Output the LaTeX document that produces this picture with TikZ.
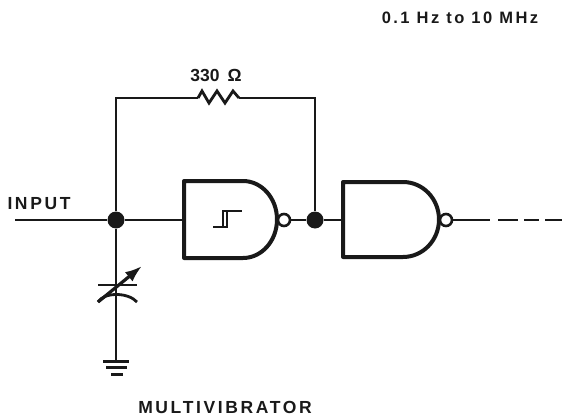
\documentclass[tikz,border=0pt]{standalone}
\usepackage{fontspec}
\setmainfont{Liberation Sans}
\newfontfamily\spacedfont[LetterSpace=15]{Liberation Sans}
\usepackage{xcolor}
\usetikzlibrary{arrows.meta}

\definecolor{ink}{gray}{0.1}
\tikzset{
    wire/.style={draw=ink, line width=2.2pt},
    gatebody/.style={draw=ink, line width=4pt, line join=round, fill=white},
    dot/.style={circle, fill=ink, inner sep=0pt, minimum size=17pt},
    bubble/.style={circle, draw=ink, line width=2.6pt, fill=white, inner sep=0pt, minimum size=12pt},
    lbl/.style={text=ink, font=\fontsize{17.5}{19}\spacedfont\bfseries, inner sep=0pt}
}

\begin{document}
\begin{tikzpicture}[x=1pt, y=-1pt]
        \useasboundingbox (0, 0) rectangle (562, 420);

        \node[lbl, font=\fontsize{16.5}{18}\spacedfont\bfseries] (freq) at (460, 18) {0.1 Hz to 10 MHz};
        \node[lbl, font=\fontsize{17.5}{19}\selectfont\bfseries] (val) at (216, 75.5) {330\hspace{8pt}Ω};
        \node[lbl] (inp) at (39, 203.5) {INPUT};
        \node[lbl] (name) at (225, 407.5) {MULTIVIBRATOR};

        \coordinate (start) at (15, 220);
        \node[dot] (ja) at (116, 220) {};
        \node[dot] (jb) at (315, 220) {};
        \coordinate (tl) at (116, 98);
        \coordinate (tr) at (315, 98);
        \coordinate (ra) at (198, 98);
        \coordinate (rb) at (239, 98);
        \coordinate (ina) at (184, 220);
        \coordinate (inb) at (343, 220);
        \coordinate (capt) at (116, 285);
        \coordinate (gnd) at (116, 361);
        \coordinate (end) at (490, 220);

        % gates
        \draw[gatebody] (184, 181) -- (243, 181) arc (-90:90:34 and 38.5) -- (184, 258) -- cycle;
        \draw[gatebody] (343, 182) -- (403, 182) arc (-90:90:36 and 37.5) -- (343, 257) -- cycle;
        \node[bubble] (ba) at (284, 220) {};
        \node[bubble] (bb) at (446, 220) {};
        \draw[draw=ink, line width=2.6pt] (213, 227) -- (227, 227) -- (227, 211) (223, 227) -- (223, 211) -- (242, 211);

        \draw[wire] (start) -- (ja);
        \draw[wire] (ja) -- (ina);
        \draw[wire] (ba) -- (jb);
        \draw[wire] (jb) -- (inb);
        \draw[wire] (ja) -- (tl) -- (ra);
        \draw[wire] (rb) -- (tr) -- (jb);
        \draw[wire, line width=2.8pt] (ra) -- (202, 91) -- (209, 103) -- (217, 91) -- (225, 103) -- (233, 91) -- (rb);
        \draw[wire] (bb) -- (end);
        \draw[wire, line width=2.6pt] (498, 220) -- (518, 220)
            (524, 220) -- (539, 220)
            (545, 220) -- (562, 220);

        % capacitor and ground
        \draw[wire] (ja) -- (capt);
        \draw[wire] (capt) -- (gnd);
        \draw[wire] (98, 285) -- (137, 285);
        \draw[wire, line width=2.8pt] (98, 302) .. controls (104, 292) and (128, 292) .. (137, 302);
        \draw[draw=ink, line width=3.2pt, -{Latex[length=17pt, width=12pt]}] (98, 302) -- (142, 266);
        \draw[wire, line width=3pt] (103, 361) -- (129, 361);
        \draw[wire, line width=3pt] (106, 367) -- (127, 367);
        \draw[wire, line width=3pt] (111, 374) -- (123, 374);
    \end{tikzpicture}
\end{document}
